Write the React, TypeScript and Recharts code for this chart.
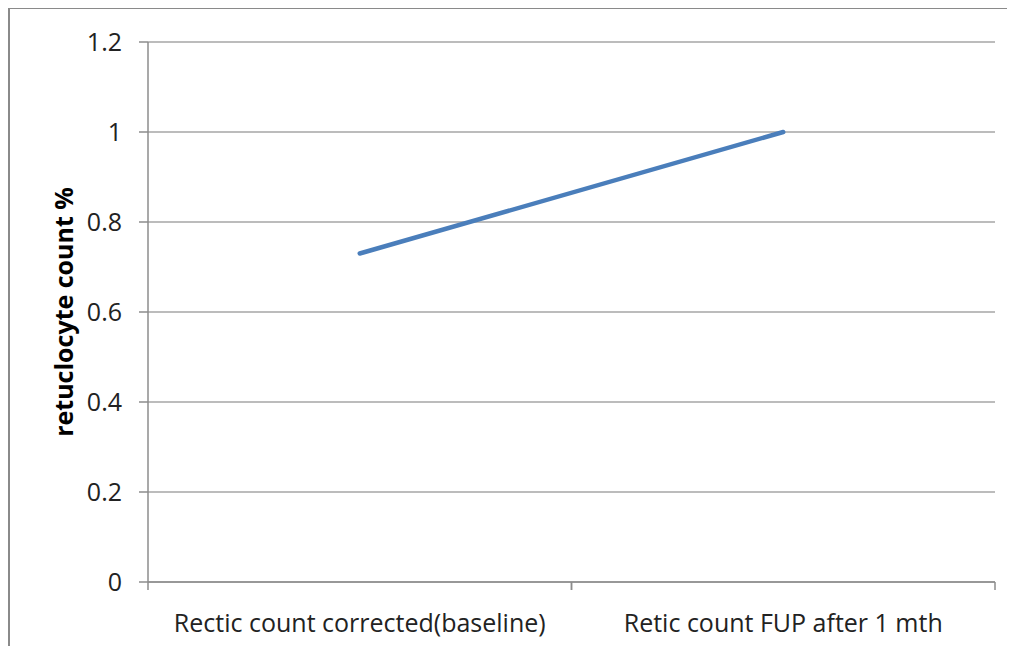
import { LineChart, Line, XAxis, YAxis, CartesianGrid, Label } from "recharts";

const categories = ["Rectic count corrected(baseline)", "Retic count FUP after 1 mth"];
const reticValues = [0.73, 1.0];
const yTicks = [0, 0.2, 0.4, 0.6, 0.8, 1, 1.2];

const chartData = categories.map((c, i) => ({ name: c, retic: reticValues[i] }));

const FONT = "'Open Sans', 'DejaVu Sans', sans-serif";

// category label centred in the band, tick marks on the band edges
function CategoryTick(props: any) {
  const { x, y, payload } = props;
  const half = payload.offset || 0;
  return (
    <g>
      <line x1={x - half} x2={x - half} y1={y} y2={y + 8} stroke="#8c8c8c" strokeWidth={1.5} />
      <line x1={x + half} x2={x + half} y1={y} y2={y + 8} stroke="#8c8c8c" strokeWidth={1.5} />
      <text x={x} y={y + 50} textAnchor="middle" fontFamily={FONT} fontSize={25} fill="#222">
        {payload.value}
      </text>
    </g>
  );
}

function YTitle(props: any) {
  const vb = props.viewBox;
  const cx = vb.x + vb.width / 2 - 11;
  const cy = vb.y + vb.height / 2;
  return (
    <text
      x={cx}
      y={cy}
      transform={`rotate(-90 ${cx} ${cy})`}
      textAnchor="middle"
      dominantBaseline="central"
      fontFamily={FONT}
      fontWeight="bold"
      fontSize={25}
      fill="#000"
    >
      retuclocyte count %
    </text>
  );
}

export default function App() {
  return (
    <div style={{ position: "relative", width: 1015, height: 654, margin: -8, background: "#fff" }}>
      <div
        style={{
          position: "absolute",
          left: 7,
          top: 6,
          right: 0,
          bottom: 0,
          borderTop: "3px solid #8a8a8a",
          borderLeft: "3px solid #8a8a8a",
        }}
      />
      <div style={{ position: "absolute", left: 0, top: 0 }}>
        <LineChart width={1015} height={654} data={chartData} margin={{ top: 42, right: 20, bottom: 0, left: 0 }}>
          <CartesianGrid vertical={false} stroke="#a6a6a6" strokeWidth={1.5} />
          <XAxis
            dataKey="name"
            scale="band"
            height={72}
            stroke="#8c8c8c"
            strokeWidth={1.5}
            tickLine={false}
            tickSize={0}
            tickMargin={0}
            interval={0}
            tick={<CategoryTick />}
          />
          <YAxis
            width={148}
            domain={[0, 1.2]}
            ticks={yTicks}
            interval={0}
            stroke="#8c8c8c"
            strokeWidth={1.5}
            tickSize={9}
            tickMargin={17}
            tick={{ fontFamily: FONT, fontSize: 25, fill: "#222" }}
          >
            <Label content={<YTitle />} position="center" />
          </YAxis>
          <Line
            type="linear"
            dataKey="retic"
            stroke="#4a7ebb"
            strokeWidth={4.5}
            strokeLinecap="round"
            dot={false}
            activeDot={false}
            isAnimationActive={false}
          />
        </LineChart>
      </div>
    </div>
  );
}
